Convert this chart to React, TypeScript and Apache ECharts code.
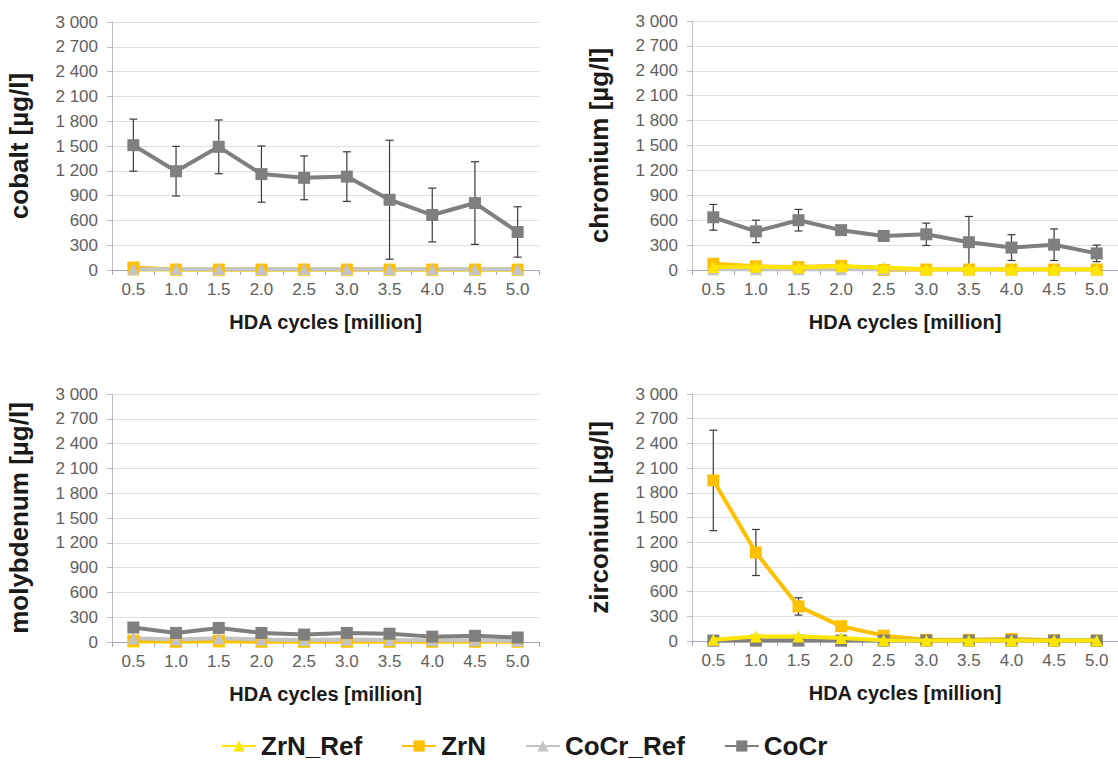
import React, { useEffect, useRef } from "react";
import * as echarts from "echarts";

// HDA cycles (million) on the x axis
const categories = ["0.5", "1.0", "1.5", "2.0", "2.5", "3.0", "3.5", "4.0", "4.5", "5.0"];

// Series names, in legend order
const seriesNames = ["ZrN_Ref", "ZrN", "CoCr_Ref", "CoCr"];

// cobalt [µg/l]
const cobaltZrNRef = [5, 5, 5, 5, 5, 5, 5, 5, 5, 5];
const cobaltZrN = [30, 5, 5, 5, 5, 5, 5, 5, 5, 5];
const cobaltCoCrRef = [10, 8, 8, 8, 8, 8, 8, 8, 8, 8];
const cobaltCoCr = [1510, 1195, 1490, 1160, 1115, 1130, 850, 665, 810, 460];
const cobaltCoCrErr = [315, 300, 325, 340, 265, 300, 720, 325, 500, 305];

// chromium [µg/l]
const chromiumZrNRef = [35, 40, 30, 45, 30, 10, 10, 10, 10, 10];
const chromiumZrN = [75, 45, 35, 50, 0, 5, 5, 5, 5, 5];
const chromiumCoCrRef = [10, 8, 8, 8, 8, 8, 8, 8, 8, 8];
const chromiumCoCr = [635, 465, 600, 480, 410, 430, 335, 270, 305, 200];
const chromiumCoCrErr = [155, 135, 130, 30, 50, 135, 310, 155, 190, 100];

// molybdenum [µg/l]
const molybdenumZrNRef = [5, 5, 5, 5, 5, 5, 5, 5, 5, 5];
const molybdenumZrN = [15, 5, 15, 5, 5, 5, 5, 5, 5, 5];
const molybdenumCoCrRef = [45, 30, 45, 30, 25, 30, 25, 20, 20, 15];
const molybdenumCoCr = [175, 110, 170, 110, 90, 110, 100, 65, 75, 55];
const molybdenumCoCrErr = [30, 20, 25, 20, 15, 20, 20, 15, 15, 15];

// zirconium [µg/l]
const zirconiumZrNRef = [15, 55, 55, 35, 10, 5, 5, 5, 5, 5];
const zirconiumZrN = [1950, 1075, 420, 180, 65, 15, 15, 25, 10, 5];
const zirconiumZrNErr = [610, 280, 105, 30, 20, 10, 10, 10, 10, 5];
const zirconiumCoCrRef = [5, 5, 5, 5, 5, 5, 5, 5, 5, 5];
const zirconiumCoCr = [5, 5, 5, 5, 5, 5, 5, 5, 5, 5];

const FONT = "'Liberation Sans', Arial, sans-serif";

const COLORS: Record<string, string> = {
  ZrN_Ref: "#FFE600",
  ZrN: "#FFC000",
  CoCr_Ref: "#C4C4C4",
  CoCr: "#7F7F7F",
};
const SYMBOLS: Record<string, string> = {
  ZrN_Ref: "triangle",
  ZrN: "rect",
  CoCr_Ref: "triangle",
  CoCr: "rect",
};

type Panel = {
  title: string;
  grid: { left: number; top: number; width: number; height: number };
  values: Record<string, number[]>;
  errors: Record<string, number[]>;
  refOnTop: boolean;
};

const panels: Panel[] = [
  {
    title: "cobalt [µg/l]",
    grid: { left: 112, top: 22, width: 427, height: 248 },
    values: { ZrN_Ref: cobaltZrNRef, ZrN: cobaltZrN, CoCr_Ref: cobaltCoCrRef, CoCr: cobaltCoCr },
    errors: { CoCr: cobaltCoCrErr },
    refOnTop: false,
  },
  {
    title: "chromium [µg/l]",
    grid: { left: 692, top: 21, width: 427, height: 249 },
    values: { ZrN_Ref: chromiumZrNRef, ZrN: chromiumZrN, CoCr_Ref: chromiumCoCrRef, CoCr: chromiumCoCr },
    errors: { CoCr: chromiumCoCrErr },
    refOnTop: true,
  },
  {
    title: "molybdenum [µg/l]",
    grid: { left: 112, top: 394, width: 427, height: 248 },
    values: { ZrN_Ref: molybdenumZrNRef, ZrN: molybdenumZrN, CoCr_Ref: molybdenumCoCrRef, CoCr: molybdenumCoCr },
    errors: { CoCr: molybdenumCoCrErr },
    refOnTop: false,
  },
  {
    title: "zirconium [µg/l]",
    grid: { left: 692, top: 394, width: 427, height: 247 },
    values: { ZrN_Ref: zirconiumZrNRef, ZrN: zirconiumZrN, CoCr_Ref: zirconiumCoCrRef, CoCr: zirconiumCoCr },
    errors: { ZrN: zirconiumZrNErr },
    refOnTop: true,
  },
];

const thousands = (v: number) => String(v).replace(/\B(?=(\d{3})+(?!\d))/g, " ");

function buildOption() {
  const grids: any[] = [];
  const xAxes: any[] = [];
  const yAxes: any[] = [];
  const series: any[] = [];

  panels.forEach((p, i) => {
    grids.push({ ...p.grid, containLabel: false });
    xAxes.push({
      type: "category",
      gridIndex: i,
      data: categories,
      boundaryGap: true,
      name: "HDA cycles [million]",
      nameLocation: "middle",
      nameGap: 42,
      nameTextStyle: { fontFamily: FONT, fontSize: 20, fontWeight: "bold", color: "#1a1a1a" },
      axisLine: { lineStyle: { color: "#A3A6BE", width: 1 } },
      axisTick: { show: true, length: 5, alignWithLabel: false, lineStyle: { color: "#A3A6BE" } },
      axisLabel: { fontFamily: FONT, fontSize: 17, color: "#606060", margin: 11 },
      splitLine: { show: false },
    });
    yAxes.push({
      type: "value",
      gridIndex: i,
      min: 0,
      max: 3000,
      interval: 300,
      name: p.title,
      nameLocation: "middle",
      nameGap: 80,
      nameTextStyle: { fontFamily: FONT, fontSize: 26, fontWeight: "bold", color: "#1a1a1a" },
      axisLine: { show: true, lineStyle: { color: "#BDBDBD", width: 1 } },
      axisTick: { show: true, length: 5, lineStyle: { color: "#BDBDBD" } },
      axisLabel: {
        fontFamily: FONT,
        fontSize: 17,
        color: "#606060",
        margin: 14,
        formatter: (v: number) => thousands(v),
      },
      splitLine: { show: true, lineStyle: { color: "#DEDEDE", width: 1 } },
    });

    seriesNames.forEach((name) => {
      series.push({
        type: "line",
        name,
        xAxisIndex: i,
        yAxisIndex: i,
        data: p.values[name],
        symbol: SYMBOLS[name],
        symbolSize: 12,
        showSymbol: true,
        lineStyle: { color: COLORS[name], width: 4 },
        itemStyle: { color: COLORS[name] },
        z: name === "ZrN_Ref" && p.refOnTop ? 4 : 3,
      });
      const err = p.errors[name];
      if (err) {
        series.push({
          type: "custom",
          name: name + " error",
          xAxisIndex: i,
          yAxisIndex: i,
          z: 2,
          silent: true,
          data: p.values[name].map((v, k) => [k, v, err[k]]),
          renderItem: (_params: any, api: any) => {
            const idx = api.value(0);
            const mean = api.value(1);
            const e = api.value(2);
            const top = api.coord([idx, mean + e]);
            const bot = api.coord([idx, Math.max(0, mean - e)]);
            const hw = 4;
            const style = { stroke: "#3a3a3a", lineWidth: 1.2 };
            return {
              type: "group",
              children: [
                { type: "line", shape: { x1: top[0], y1: top[1], x2: bot[0], y2: bot[1] }, style },
                { type: "line", shape: { x1: top[0] - hw, y1: top[1], x2: top[0] + hw, y2: top[1] }, style },
                { type: "line", shape: { x1: bot[0] - hw, y1: bot[1], x2: bot[0] + hw, y2: bot[1] }, style },
              ],
            };
          },
        });
      }
    });
  });

  return {
    animation: false,
    backgroundColor: "#ffffff",
    grid: grids,
    xAxis: xAxes,
    yAxis: yAxes,
    legend: {
      data: seriesNames,
      left: 216,
      top: 728,
      itemWidth: 34,
      itemHeight: 14,
      itemGap: 39,
      textStyle: { fontFamily: FONT, fontSize: 26, fontWeight: "bold", color: "#1a1a1a" },
    },
    series,
  };
}

export default function App() {
  const ref = useRef<HTMLDivElement>(null);

  useEffect(() => {
    if (!ref.current) return;
    const chart = echarts.init(ref.current, undefined, { renderer: "svg" });
    chart.setOption(buildOption());
    return () => chart.dispose();
  }, []);

  return (
    <div
      ref={ref}
      style={{ position: "fixed", left: 0, top: 0, width: 1118, height: 763, background: "#fff" }}
    />
  );
}
